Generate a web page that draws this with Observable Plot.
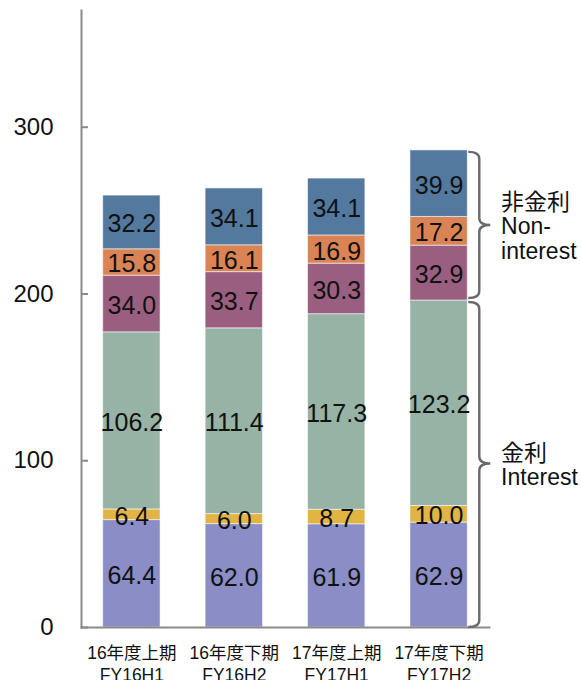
<!DOCTYPE html>
<html>
<head>
<meta charset="utf-8">
<script src="https://cdn.jsdelivr.net/npm/d3@7"></script>
<script src="https://cdn.jsdelivr.net/npm/@observablehq/plot@0.6"></script>
<style>
  html, body { margin: 0; padding: 0; background: #fff; }
  #chart svg { display: block; }
</style>
</head>
<body>
<div id="chart"></div>
<script>
// ---- data ----
const categoriesJa = ["16年度上期", "16年度下期", "17年度上期", "17年度下期"];
const categoriesEn = ["FY16H1", "FY16H2", "FY17H1", "FY17H2"];
const seriesNames = ["s1", "s2", "s3", "s4", "s5", "s6"]; // bottom to top
const seriesColors = ["#8A8DC6", "#E1B444", "#96B3A6", "#9A5F80", "#DA8455", "#53799F"];
const s1 = [64.4, 62.0, 61.9, 62.9];
const s2 = [6.4, 6.0, 8.7, 10.0];
const s3 = [106.2, 111.4, 117.3, 123.2];
const s4 = [34.0, 33.7, 30.3, 32.9];
const s5 = [15.8, 16.1, 16.9, 17.2];
const s6 = [32.2, 34.1, 34.1, 39.9];
const yTicks = [0, 100, 200, 300];
const groupLabels = ["非金利\nNon-\ninterest", "金利\nInterest"];
const interestSeries = [0, 1, 2];      // indices of s1..s3
const nonInterestSeries = [3, 4, 5];   // indices of s4..s6

// ---- table ----
const seriesValues = [s1, s2, s3, s4, s5, s6];
const data = [];
categoriesEn.forEach((c, i) => {
  seriesValues.forEach((vals, k) => {
    data.push({cat: c, series: seriesNames[k], value: vals[i]});
  });
});

const last = categoriesEn.length - 1;
const interestTop = d3.sum(interestSeries, k => seriesValues[k][last]);
const total = d3.sum(seriesValues, v => v[last]);
const groups = [
  {label: groupLabels[0], lo: interestTop, hi: total},
  {label: groupLabels[1], lo: 0, hi: interestTop}
];

const font = "'Liberation Sans', Arial, 'Noto Sans CJK JP', sans-serif";

function braces(index, scales) {
  const x = scales.x, y = scales.y;
  const xb = x(categoriesEn[last]) + x.bandwidth();
  const x0 = xb + 1, xm = xb + 12, xt = xb + 23;
  const g = d3.create("svg:g")
    .attr("fill", "none")
    .attr("stroke", "#6a6a6a")
    .attr("stroke-width", 2.4);
  groups.forEach((gr, i) => {
    const y0 = y(gr.hi) + 2;
    const y1 = y(gr.lo) - (i === 0 ? 2 : 0);
    const ym = y((gr.lo + gr.hi) / 2);
    const r = 7;
    const p = `M${x0},${y0} Q${xm},${y0} ${xm},${y0 + r} L${xm},${ym - r} Q${xm},${ym} ${xt},${ym} Q${xm},${ym} ${xm},${ym + r} L${xm},${y1 - r} Q${xm},${y1} ${x0},${y1}`;
    g.append("path").attr("d", p);
  });
  return g.node();
}

const chart = Plot.plot({
  width: 581,
  height: 680,
  marginLeft: 81,
  marginRight: 92,
  marginTop: 10,
  marginBottom: 53,
  style: {fontFamily: font, color: "#111", background: "#fff"},
  x: {domain: categoriesEn, paddingInner: 0.44, paddingOuter: 0.212, round: false, label: null},
  y: {domain: [0, 370], label: null},
  color: {domain: seriesNames, range: seriesColors},
  marks: [
    Plot.barY(data, {
      x: "cat", y: "value", z: "series", fill: "series",
      stroke: "white", strokeOpacity: 0.55, strokeWidth: 1
    }),
    Plot.text(data, Plot.stackY({
      x: "cat", y: "value", z: "series",
      text: d => d.value.toFixed(1),
      fontSize: 25, fill: "#111", dy: 2
    })),
    Plot.frame({anchor: "left", stroke: "#8a8a8a", strokeWidth: 2}),
    Plot.frame({anchor: "bottom", stroke: "#8a8a8a", strokeWidth: 2}),
    Plot.axisY({ticks: yTicks, tickSize: -7, tickPadding: 35, fontSize: 24, stroke: "#8a8a8a", strokeWidth: 2, fill: "#111", label: null}),
    Plot.axisX({
      tickSize: 0, tickPadding: 15, fontSize: 17.5, lineHeight: 1.3, fill: "#111", label: null,
      tickFormat: d => categoriesJa[categoriesEn.indexOf(d)] + "\n" + d
    }),
    braces,
    Plot.text(groups, {
      x: () => categoriesEn[last],
      y: d => (d.lo + d.hi) / 2,
      text: "label",
      dx: 62, dy: 1,
      textAnchor: "start", lineAnchor: "middle", lineHeight: 1.07,
      fontSize: 23, fill: "#111"
    })
  ]
});
document.getElementById("chart").appendChild(chart);
</script>
</body>
</html>
